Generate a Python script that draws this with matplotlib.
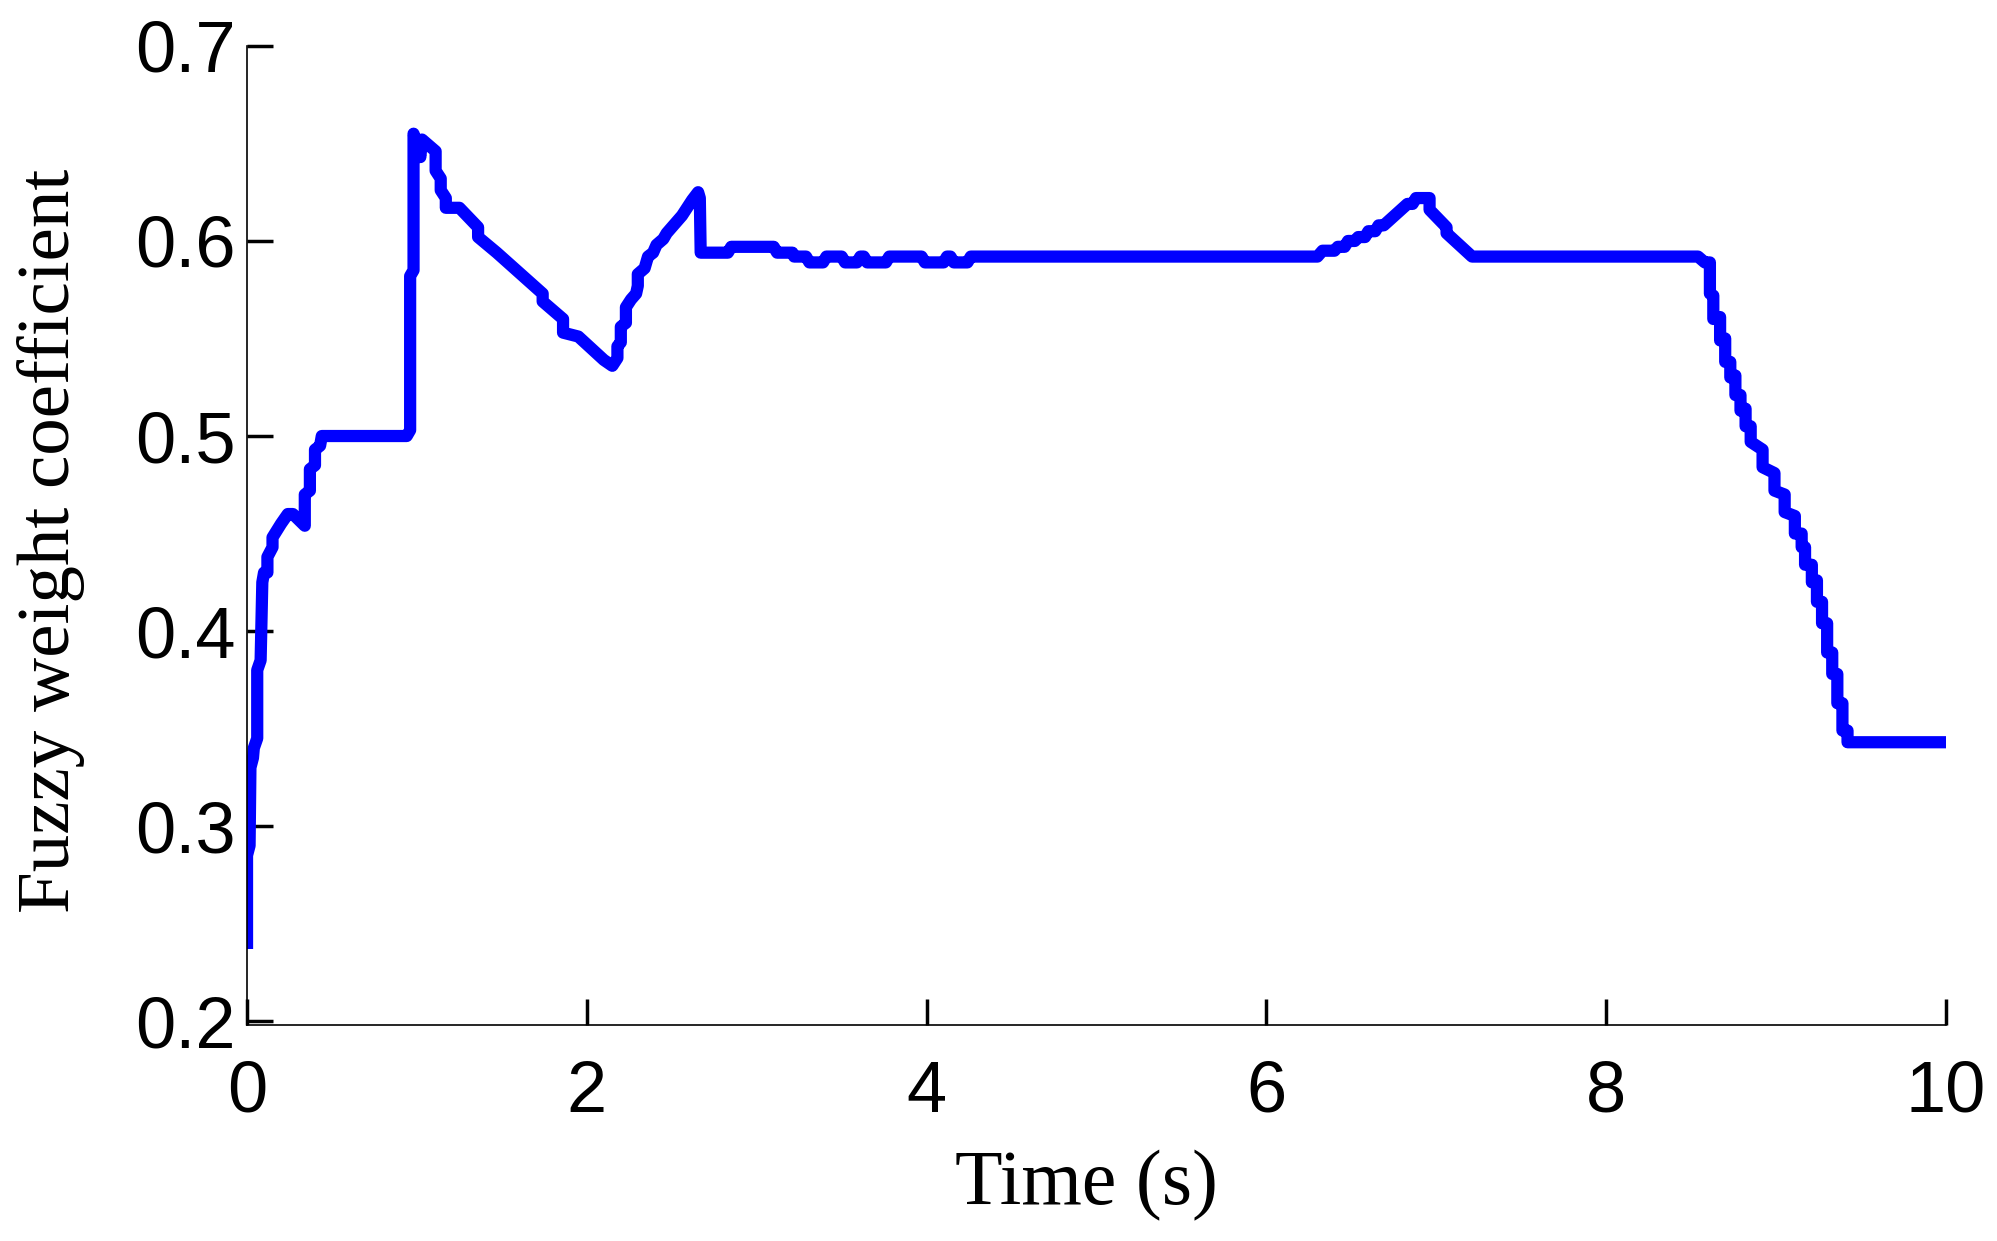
import matplotlib
matplotlib.use('Agg')
import matplotlib.pyplot as plt

# 读取的数据（时间, 模糊权重系数）
time = [0.00, 0.00, 0.015, 0.02, 0.035, 0.04, 0.06, 0.06, 0.08, 0.09, 0.10, 0.12,
        0.12, 0.15, 0.15, 0.20, 0.24, 0.27, 0.34, 0.34, 0.37, 0.37, 0.40, 0.40,
        0.43, 0.44, 0.94, 0.96, 0.96, 0.98, 0.98, 1.00, 1.02, 1.03, 1.11, 1.11,
        1.14, 1.14, 1.17, 1.17, 1.25, 1.36, 1.36, 1.47, 1.74, 1.74, 1.86, 1.86,
        1.95, 2.10, 2.15, 2.18, 2.18, 2.20, 2.20, 2.23, 2.23, 2.26, 2.29, 2.30,
        2.30, 2.34, 2.36, 2.39, 2.41, 2.45, 2.47, 2.50, 2.53, 2.56, 2.59, 2.62,
        2.655, 2.665, 2.67, 2.83, 2.85, 3.10, 3.12, 3.21, 3.22, 3.29, 3.31, 3.39,
        3.41, 3.50, 3.52, 3.59, 3.61, 3.63, 3.65, 3.76, 3.78, 3.97, 3.99, 4.10,
        4.12, 4.14, 4.16, 4.24, 4.26, 6.30, 6.33, 6.40, 6.42, 6.46, 6.48, 6.52,
        6.54, 6.58, 6.60, 6.64, 6.66, 6.69, 6.83, 6.86, 6.88, 6.96, 6.96, 7.06,
        7.06, 7.21, 8.54, 8.58, 8.61, 8.61, 8.63, 8.63, 8.67, 8.67, 8.70, 8.70,
        8.73, 8.73, 8.76, 8.76, 8.79, 8.79, 8.82, 8.82, 8.85, 8.85, 8.92, 8.92,
        8.99, 8.99, 9.05, 9.05, 9.11, 9.11, 9.15, 9.15, 9.17, 9.17, 9.21, 9.21,
        9.24, 9.24, 9.27, 9.27, 9.30, 9.30, 9.33, 9.33, 9.36, 9.36, 9.39, 9.39,
        9.42, 9.42, 10.0]
weight = [0.237, 0.285, 0.290, 0.330, 0.335, 0.340, 0.345, 0.380, 0.385, 0.425, 0.430, 0.430,
          0.438, 0.443, 0.448, 0.455, 0.460, 0.460, 0.454, 0.470, 0.472, 0.483, 0.485, 0.493,
          0.495, 0.500, 0.500, 0.503, 0.582, 0.585, 0.655, 0.650, 0.643, 0.652, 0.646, 0.636,
          0.632, 0.626, 0.622, 0.617, 0.617, 0.607, 0.602, 0.594, 0.573, 0.569, 0.560, 0.553,
          0.551, 0.539, 0.536, 0.540, 0.546, 0.548, 0.556, 0.558, 0.566, 0.570, 0.573, 0.577,
          0.583, 0.586, 0.592, 0.594, 0.598, 0.601, 0.604, 0.607, 0.610, 0.613, 0.617, 0.621,
          0.625, 0.622, 0.594, 0.594, 0.597, 0.597, 0.594, 0.594, 0.592, 0.592, 0.589, 0.589,
          0.592, 0.592, 0.589, 0.589, 0.592, 0.592, 0.589, 0.589, 0.592, 0.592, 0.589, 0.589,
          0.592, 0.592, 0.589, 0.589, 0.592, 0.592, 0.595, 0.595, 0.597, 0.597, 0.600, 0.600,
          0.602, 0.602, 0.605, 0.605, 0.608, 0.608, 0.619, 0.619, 0.622, 0.622, 0.616, 0.607,
          0.604, 0.592, 0.592, 0.589, 0.589, 0.573, 0.572, 0.560, 0.561, 0.549, 0.550, 0.538,
          0.538, 0.530, 0.531, 0.521, 0.521, 0.513, 0.514, 0.505, 0.505, 0.497, 0.493, 0.484,
          0.481, 0.472, 0.470, 0.461, 0.459, 0.450, 0.450, 0.443, 0.443, 0.434, 0.434, 0.425,
          0.426, 0.415, 0.415, 0.404, 0.404, 0.389, 0.389, 0.378, 0.378, 0.363, 0.363, 0.349,
          0.349, 0.343, 0.343]

x_ticks = [0, 2, 4, 6, 8, 10]
y_ticks = [0.2, 0.3, 0.4, 0.5, 0.6, 0.7]
x_tick_labels = ['0', '2', '4', '6', '8', '10']
y_tick_labels = ['0.2', '0.3', '0.4', '0.5', '0.6', '0.7']

fig = plt.figure(figsize=(19.97, 12.41), dpi=100)
ax = fig.add_axes([0.1237, 0.174, 0.8508, 0.789])

ax.plot(time, weight, color='#0000ff', linewidth=8.8,
        solid_joinstyle='round', solid_capstyle='butt')

ax.set_xlim(0, 10)
ax.set_ylim(0.198, 0.7)
ax.set_xticks(x_ticks)
ax.set_xticklabels(x_tick_labels)
ax.set_yticks(y_ticks)
ax.set_yticklabels(y_tick_labels)

# 只保留左、下坐标轴
for side in ['top', 'right']:
    ax.spines[side].set_visible(False)
for side in ['left', 'bottom']:
    ax.spines[side].set_linewidth(1.2)

ax.tick_params(axis='both', direction='in', length=19, width=2.5, color='black')
ax.tick_params(axis='x', pad=25)
ax.tick_params(axis='y', pad=8)
for lab in ax.get_xticklabels() + ax.get_yticklabels():
    lab.set_fontfamily('Liberation Sans')
    lab.set_fontsize(52)

# 坐标轴标题用 fig.text 定位
fig.text(0.544, 0.045, 'Time (s)', fontfamily='Liberation Serif', fontsize=56,
         ha='center', va='center')
fig.text(0.0255, 0.564, 'Fuzzy weight coefficient', fontfamily='Liberation Serif',
         fontsize=54, ha='center', va='center', rotation=90)

fig.savefig('out.png', dpi=100)
